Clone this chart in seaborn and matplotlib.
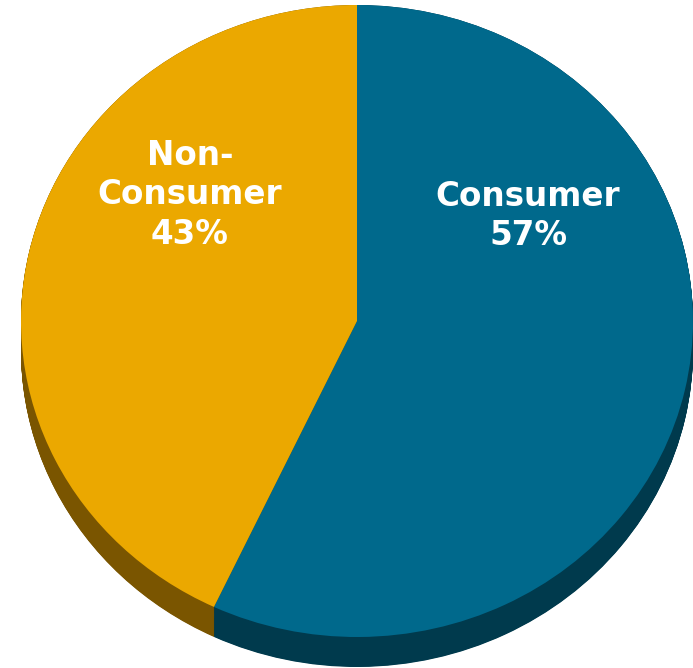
import matplotlib
matplotlib.use("Agg")
import matplotlib.pyplot as plt
import seaborn as sns
import numpy as np

# Data
categories = ["Consumer", "Non-Consumer"]
display_labels = ["Consumer", "Non-\nConsumer"]
shares = [57, 43]

top_colors = ["#00698C", "#EBA800"]
side_colors = ["#003A4D", "#7A5500"]

sns.set_theme(style="white")
plt.rcParams['font.family'] = ['DejaVu Sans']

W, H = 693, 668
fig = plt.figure(figsize=(W / 100, H / 100), dpi=100)
ax = fig.add_axes([0, 0, 1, 1])

# ellipse geometry in pixels
cx, cy = 357, 321
rx, ry = 336, 316
depth_px = 30
depth = depth_px / ry

# side (extrusion) drawn as stacked pies
n_layers = 60
for d in np.linspace(depth, 0.0, n_layers):
    ax.pie(shares, colors=side_colors, startangle=90, counterclock=False,
           center=(0, -d), radius=1.0,
           wedgeprops=dict(linewidth=0, antialiased=True))

# top face
ax.pie(shares, colors=top_colors, startangle=90, counterclock=False,
       center=(0, 0), radius=1.0,
       wedgeprops=dict(linewidth=0, antialiased=True))

ax.set_aspect('auto')
ax.set_xlim(-cx / rx, (W - cx) / rx)
ax.set_ylim(-(H - cy) / ry, cy / ry)
ax.axis('off')

# labels (positions in pixel fractions)
label_pos = [(528, 216), (190, 195)]
for lab, val, (px, py) in zip(display_labels, shares, label_pos):
    ax.text(px / W, 1 - py / H, f"{lab}\n{val}%", transform=fig.transFigure,
            ha="center", va="center", color="white", fontsize=23.5,
            fontweight="bold", linespacing=1.25)

fig.savefig("out.png", dpi=100)
